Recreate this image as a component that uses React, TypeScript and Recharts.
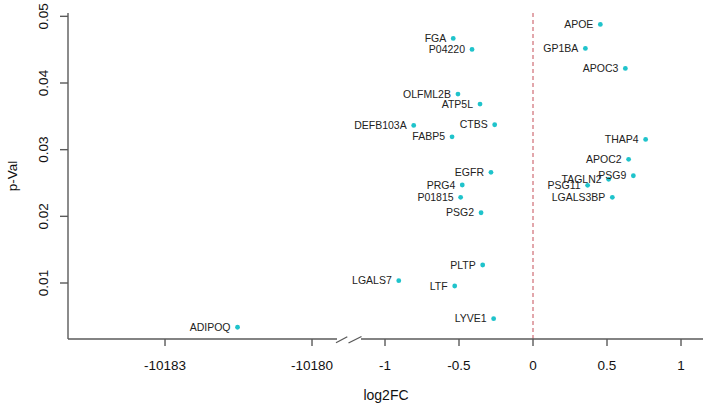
import React from 'react';
import { ScatterChart, Scatter, XAxis, YAxis, ReferenceLine } from 'recharts';

const geneNames = ['ADIPOQ', 'LGALS7', 'DEFB103A', 'FABP5', 'FGA', 'LTF', 'OLFML2B', 'P01815', 'PRG4', 'P04220', 'ATP5L', 'PSG2', 'PLTP', 'EGFR', 'LYVE1', 'CTBS', 'GP1BA', 'PSG11', 'APOE', 'TAGLN2', 'LGALS3BP', 'APOC3', 'APOC2', 'PSG9', 'THAP4'];
const log2FC = [-10181.52, -0.907, -0.806, -0.547, -0.539, -0.529, -0.507, -0.489, -0.478, -0.412, -0.358, -0.351, -0.34, -0.284, -0.266, -0.259, 0.354, 0.369, 0.455, 0.511, 0.536, 0.624, 0.646, 0.678, 0.761];
const pValues = [0.00336, 0.01035, 0.03364, 0.03193, 0.04669, 0.00955, 0.03834, 0.02285, 0.0247, 0.04503, 0.03684, 0.02054, 0.0127, 0.0266, 0.00465, 0.03374, 0.04519, 0.02465, 0.04879, 0.02555, 0.02285, 0.04219, 0.02855, 0.02609, 0.03154];

const leftTicks = [-10183, -10180];
const rightTicks = [-1, -0.5, 0, 0.5, 1];
const yTicks = [0.01, 0.02, 0.03, 0.04, 0.05];

const points = geneNames.map((name, i) => ({ name, x: log2FC[i], y: pValues[i] }));
const leftData = points.filter((p) => p.x < -100);
const rightData = points.filter((p) => p.x >= -100);

const W = 708;
const H = 406;
const FONT = '"Liberation Sans", Arial, Helvetica, sans-serif';
const AXIS = '#5a5a5a';
const DOT = '#1fc3cb';
const yDomain = [0.0016, 0.0505];
const TOP = 13;
const BOTTOM_MARGIN = 37;
const XAXIS_H = 30;

const Dot = (props: any) => {
  const { cx, cy, payload } = props;
  return (
    <g>
      <circle cx={cx} cy={cy} r={2.4} fill={DOT} />
      <text x={cx - 7} y={cy} dy="0.35em" textAnchor="end" fontSize={10.5} fill="#222" fontFamily={FONT}>
        {payload.name}
      </text>
    </g>
  );
};

const YTick = (props: any) => {
  const { x, y, payload } = props;
  return (
    <text transform={`translate(${x - 15},${y}) rotate(-90)`} textAnchor="middle" dy="0.35em" fontSize={13.5} fill="#111" fontFamily={FONT}>
      {Number(payload.value).toFixed(2)}
    </text>
  );
};

const axisCommon = {
  stroke: AXIS,
  strokeWidth: 1.4,
};

export default function App() {
  return (
    <div style={{ position: 'absolute', left: 0, top: 0, width: W, height: H, background: '#fff', fontFamily: FONT }}>
      <div style={{ position: 'absolute', left: 0, top: 0 }}>
        <ScatterChart width={W} height={H} margin={{ top: TOP, right: W - 337, bottom: BOTTOM_MARGIN, left: 0 }}>
          <XAxis
            type="number"
            dataKey="x"
            domain={[-10184.98, -10179.49]}
            ticks={leftTicks}
            height={XAXIS_H}
            tickSize={7}
            tickMargin={14}
            tick={{ fontSize: 13.5, fill: '#111', fontFamily: FONT }}
            axisLine={axisCommon}
            tickLine={axisCommon}
          />
          <YAxis
            type="number"
            dataKey="y"
            domain={yDomain}
            ticks={yTicks}
            width={68}
            tickSize={8}
            tick={<YTick />}
            axisLine={axisCommon}
            tickLine={axisCommon}
          />
          <Scatter data={leftData} shape={<Dot />} isAnimationActive={false} />
        </ScatterChart>
      </div>
      <div style={{ position: 'absolute', left: 0, top: 0 }}>
        <ScatterChart width={W} height={H} margin={{ top: TOP, right: W - 703, bottom: BOTTOM_MARGIN, left: 361 }}>
          <XAxis
            type="number"
            dataKey="x"
            domain={[-1.1622, 1.1486]}
            ticks={rightTicks}
            height={XAXIS_H}
            tickSize={7}
            tickMargin={14}
            tick={{ fontSize: 13.5, fill: '#111', fontFamily: FONT }}
            axisLine={axisCommon}
            tickLine={axisCommon}
          />
          <YAxis type="number" dataKey="y" domain={yDomain} ticks={yTicks} hide />
          <ReferenceLine x={0} stroke="#d98a90" strokeDasharray="4 3" strokeWidth={1.5} />
          <Scatter data={rightData} shape={<Dot />} isAnimationActive={false} />
        </ScatterChart>
      </div>
      <svg width={W} height={H} style={{ position: 'absolute', left: 0, top: 0 }}>
        <line x1={336} y1={342.7} x2={347.3} y2={336.7} stroke={AXIS} strokeWidth={1.3} />
        <line x1={348.5} y1={343} x2={361.5} y2={336.5} stroke={AXIS} strokeWidth={1.3} />
        <text x={386} y={400} textAnchor="middle" fontSize={14} fill="#111" fontFamily={FONT}>
          log2FC
        </text>
        <text transform="translate(12,176) rotate(-90)" textAnchor="middle" dy="0.35em" fontSize={13.5} fill="#111" fontFamily={FONT}>
          p-Val
        </text>
      </svg>
    </div>
  );
}
